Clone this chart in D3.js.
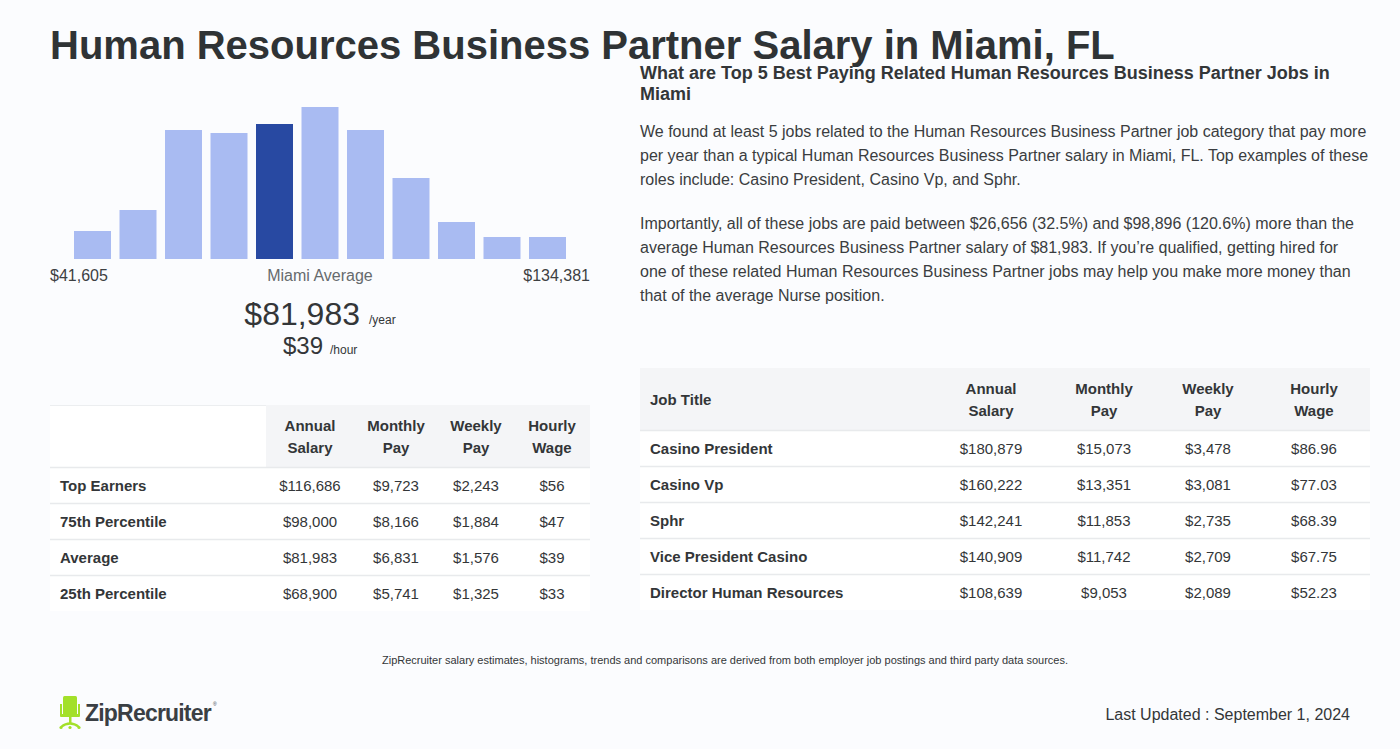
<!DOCTYPE html>
<html>
<head>
<meta charset="utf-8">
<script src="https://cdn.jsdelivr.net/npm/d3@7"></script>
<style>
  html, body { margin: 0; padding: 0; background: #fbfcfe; }
  svg { display: block; font-family: "Liberation Sans", Arial, Helvetica, sans-serif; }
</style>
</head>
<body>
<svg id="chart" width="1400" height="749"></svg>
<script>
// ---------- DATA ----------
const title = "Human Resources Business Partner Salary in Miami, FL";
const histBins = [0, 1, 2, 3, 4, 5, 6, 7, 8, 9, 10];
const histValues = [28, 49, 129, 126, 135, 152, 129, 81, 37, 22, 22];
const highlightBin = 4;
const histMinLabel = "$41,605";
const histMaxLabel = "$134,381";
const histMidLabel = "Miami Average";
const avgAnnual = "$81,983";
const avgHourly = "$39";

const leftHeaders = [["Annual", "Salary"], ["Monthly", "Pay"], ["Weekly", "Pay"], ["Hourly", "Wage"]];
const leftRowLabels = ["Top Earners", "75th Percentile", "Average", "25th Percentile"];
const leftAnnual = ["$116,686", "$98,000", "$81,983", "$68,900"];
const leftMonthly = ["$9,723", "$8,166", "$6,831", "$5,741"];
const leftWeekly = ["$2,243", "$1,884", "$1,576", "$1,325"];
const leftHourly = ["$56", "$47", "$39", "$33"];

const rightTitle = ["What are Top 5 Best Paying Related Human Resources Business Partner Jobs in", "Miami"];
const para1 = [
  "We found at least 5 jobs related to the Human Resources Business Partner job category that pay more",
  "per year than a typical Human Resources Business Partner salary in Miami, FL. Top examples of these",
  "roles include: Casino President, Casino Vp, and Sphr."
];
const para2 = [
  "Importantly, all of these jobs are paid between $26,656 (32.5%) and $98,896 (120.6%) more than the",
  "average Human Resources Business Partner salary of $81,983. If you\u2019re qualified, getting hired for",
  "one of these related Human Resources Business Partner jobs may help you make more money than",
  "that of the average Nurse position."
];
const jobHeaders = [["Annual", "Salary"], ["Monthly", "Pay"], ["Weekly", "Pay"], ["Hourly", "Wage"]];
const jobTitles = ["Casino President", "Casino Vp", "Sphr", "Vice President Casino", "Director Human Resources"];
const jobAnnual = ["$180,879", "$160,222", "$142,241", "$140,909", "$108,639"];
const jobMonthly = ["$15,073", "$13,351", "$11,853", "$11,742", "$9,053"];
const jobWeekly = ["$3,478", "$3,081", "$2,735", "$2,709", "$2,089"];
const jobHourly = ["$86.96", "$77.03", "$68.39", "$67.75", "$52.23"];

const footnote = "ZipRecruiter salary estimates, histograms, trends and comparisons are derived from both employer job postings and third party data sources.";
const updated = "Last Updated : September 1, 2024";

// ---------- DRAW ----------
const svg = d3.select("#chart");
const dark = "#333638";

svg.append("rect").attr("width", 1400).attr("height", 749).attr("fill", "#fbfcfe");

svg.append("text").attr("x", 50).attr("y", 59)
  .attr("font-size", 40).attr("font-weight", "bold").attr("fill", "#2f3335")
  .text(title);

// Histogram
const x = d3.scaleBand().domain(histBins).range([69.75, 570.25]).paddingInner(0.187).paddingOuter(0.0935);
const y = d3.scaleLinear().domain([0, d3.max(histValues)]).range([259, 107]);
const hist = svg.append("g");
hist.selectAll("rect").data(histValues).join("rect")
  .attr("x", (d, i) => x(histBins[i]))
  .attr("width", x.bandwidth())
  .attr("y", d => y(d))
  .attr("height", d => y(0) - y(d))
  .attr("fill", (d, i) => i === highlightBin ? "#2849a2" : "#a9bbf2");

svg.append("text").attr("x", 50).attr("y", 281).attr("font-size", 16).attr("fill", "#3d4042").text(histMinLabel);
svg.append("text").attr("x", 320).attr("y", 281).attr("font-size", 16).attr("fill", "#666a6d").attr("text-anchor", "middle").text(histMidLabel);
svg.append("text").attr("x", 590).attr("y", 281).attr("font-size", 16).attr("fill", "#3d4042").attr("text-anchor", "end").text(histMaxLabel);

svg.append("text").attr("x", 360).attr("y", 325).attr("font-size", 32).attr("fill", dark).attr("text-anchor", "end").text(avgAnnual);
svg.append("text").attr("x", 369).attr("y", 324).attr("font-size", 12).attr("fill", dark).text("/year");
svg.append("text").attr("x", 323).attr("y", 354).attr("font-size", 24).attr("fill", dark).attr("text-anchor", "end").text(avgHourly);
svg.append("text").attr("x", 330).attr("y", 354).attr("font-size", 12).attr("fill", dark).text("/hour");

// Left table
const lt = svg.append("g");
const leftCols = [310, 396, 476, 552];
lt.append("rect").attr("x", 50).attr("y", 405).attr("width", 540).attr("height", 206).attr("fill", "#ffffff");
lt.append("rect").attr("x", 266).attr("y", 405).attr("width", 324).attr("height", 62).attr("fill", "#f4f5f7");
lt.append("line").attr("x1", 50).attr("x2", 266).attr("y1", 405.5).attr("y2", 405.5).attr("stroke", "#eceef0");
leftHeaders.forEach((h, j) => {
  h.forEach((t, k) => {
    lt.append("text").attr("x", leftCols[j]).attr("y", 431 + k * 22).attr("font-size", 15).attr("font-weight", "bold")
      .attr("fill", dark).attr("text-anchor", "middle").text(t);
  });
});
const leftVals = [leftAnnual, leftMonthly, leftWeekly, leftHourly];
leftRowLabels.forEach((lab, i) => {
  const top = 467 + i * 36;
  lt.append("line").attr("x1", 50).attr("x2", 590).attr("y1", top + 0.5).attr("y2", top + 0.5).attr("stroke", "#e8eaec").attr("stroke-width", 1.5);
  lt.append("text").attr("x", 60).attr("y", top + 23.5).attr("font-size", 15).attr("font-weight", "bold").attr("fill", dark).text(lab);
  leftVals.forEach((col, j) => {
    lt.append("text").attr("x", leftCols[j]).attr("y", top + 23.5).attr("font-size", 15).attr("fill", dark)
      .attr("text-anchor", "middle").text(col[i]);
  });
});

// Right text
rightTitle.forEach((t, i) => {
  svg.append("text").attr("x", 640).attr("y", 79 + i * 21).attr("font-size", 18).attr("font-weight", "bold").attr("fill", dark).text(t);
});
para1.forEach((t, i) => {
  svg.append("text").attr("x", 640).attr("y", 137 + i * 24).attr("font-size", 16).attr("fill", "#3a3d40").text(t);
});
para2.forEach((t, i) => {
  svg.append("text").attr("x", 640).attr("y", 229 + i * 24).attr("font-size", 16).attr("fill", "#3a3d40").text(t);
});

// Right table
const rt = svg.append("g");
const rightCols = [991, 1104, 1208, 1314];
rt.append("rect").attr("x", 640).attr("y", 368).attr("width", 730).attr("height", 242).attr("fill", "#ffffff");
rt.append("rect").attr("x", 640).attr("y", 368).attr("width", 730).attr("height", 62).attr("fill", "#f4f5f7");
rt.append("text").attr("x", 650).attr("y", 405).attr("font-size", 15).attr("font-weight", "bold").attr("fill", dark).text("Job Title");
jobHeaders.forEach((h, j) => {
  h.forEach((t, k) => {
    rt.append("text").attr("x", rightCols[j]).attr("y", 394 + k * 22).attr("font-size", 15).attr("font-weight", "bold")
      .attr("fill", dark).attr("text-anchor", "middle").text(t);
  });
});
const jobVals = [jobAnnual, jobMonthly, jobWeekly, jobHourly];
jobTitles.forEach((lab, i) => {
  const top = 430 + i * 36;
  rt.append("line").attr("x1", 640).attr("x2", 1370).attr("y1", top + 0.5).attr("y2", top + 0.5).attr("stroke", "#e8eaec").attr("stroke-width", 1.5);
  rt.append("text").attr("x", 650).attr("y", top + 23.5).attr("font-size", 15).attr("font-weight", "bold").attr("fill", dark).text(lab);
  jobVals.forEach((col, j) => {
    rt.append("text").attr("x", rightCols[j]).attr("y", top + 23.5).attr("font-size", 15).attr("fill", dark)
      .attr("text-anchor", "middle").text(col[i]);
  });
});

// Footer
svg.append("text").attr("x", 725).attr("y", 664).attr("font-size", 11).attr("fill", dark).attr("text-anchor", "middle").text(footnote);
svg.append("text").attr("x", 1350).attr("y", 720).attr("font-size", 16).attr("fill", dark).attr("text-anchor", "end").text(updated);

// Logo
const logo = svg.append("g");
const green = "#a3e02a";
logo.append("rect").attr("x", 63).attr("y", 696).attr("width", 14).attr("height", 19).attr("rx", 1.5).attr("fill", green);
logo.append("rect").attr("x", 60).attr("y", 704).attr("width", 2).attr("height", 12).attr("fill", green);
logo.append("rect").attr("x", 78).attr("y", 704).attr("width", 2).attr("height", 12).attr("fill", green);
logo.append("rect").attr("x", 60).attr("y", 714).attr("width", 20).attr("height", 3).attr("rx", 1).attr("fill", green);
logo.append("rect").attr("x", 69).attr("y", 717).attr("width", 2.5).attr("height", 7).attr("fill", green);
logo.append("path").attr("d", "M61,727 Q70,720 79,727").attr("fill", "none").attr("stroke", green).attr("stroke-width", 2.2);
[61, 70, 79].forEach(cx => logo.append("circle").attr("cx", cx).attr("cy", 727.5).attr("r", 1.6).attr("fill", green));
logo.append("text").attr("x", 85).attr("y", 721).attr("font-size", 23).attr("font-weight", "bold")
  .attr("letter-spacing", -0.8).attr("fill", "#3a3f44").text("ZipRecruiter");
logo.append("text").attr("x", 213).attr("y", 706).attr("font-size", 5).attr("fill", "#3a3f44").text("®");
</script>
</body>
</html>
